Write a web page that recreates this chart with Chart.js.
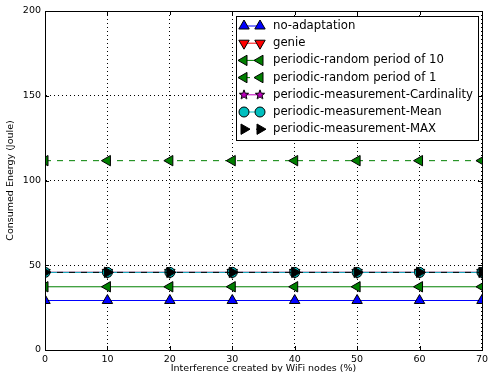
<!DOCTYPE html>
<html>
<head>
  <meta charset="UTF-8">
  <title>Consumed Energy</title>
  <script src="https://cdn.jsdelivr.net/npm/chart.js"></script>
  <style>
    body { margin: 0; background: #fff; overflow: hidden; }
    #wrap { width: 489px; height: 372px; overflow: hidden; }
    canvas { display: block; }
  </style>
</head>
<body>
  <div id="wrap"><canvas id="energyChart" width="492" height="372"></canvas></div>

  <script>
    // data
    const interference = [0, 10, 20, 30, 40, 50, 60, 70];
    const xTicks = [0, 10, 20, 30, 40, 50, 60, 70];
    const yTicks = [0, 50, 100, 150, 200];

    const noAdaptation = [29.2, 29.2, 29.2, 29.2, 29.2, 29.2, 29.2, 29.2];
    const genie = [45.8, 45.8, 45.8, 45.8, 45.8, 45.8, 45.8, 45.8];
    const periodic10 = [37.3, 37.3, 37.3, 37.3, 37.3, 37.3, 37.3, 37.3];
    const periodic1 = [111.7, 111.7, 111.7, 111.7, 111.7, 111.7, 111.7, 111.7];
    const measCardinality = [45.8, 45.8, 45.8, 45.8, 45.8, 45.8, 45.8, 45.8];
    const measMean = [45.8, 45.8, 45.8, 45.8, 45.8, 45.8, 45.8, 45.8];
    const measMax = [45.8, 45.8, 45.8, 45.8, 45.8, 45.8, 45.8, 45.8];

    const FONT = "'DejaVu Sans', sans-serif";

    // 5 point star marker (chart.js 'star' is an asterisk)
    function makeStar(r, fill) {
      const c = document.createElement('canvas');
      c.width = c.height = r * 2 + 2;
      const g = c.getContext('2d');
      const cx = r + 1, cy = r + 1;
      g.beginPath();
      for (let i = 0; i < 10; i++) {
        const rad = i % 2 === 0 ? r : r * 0.42;
        const a = -Math.PI / 2 + i * Math.PI / 5;
        g.lineTo(cx + rad * Math.cos(a), cy + rad * Math.sin(a));
      }
      g.closePath();
      g.fillStyle = fill;
      g.fill();
      g.strokeStyle = '#000';
      g.lineWidth = 1;
      g.stroke();
      return c;
    }
    const starImg = makeStar(5, '#bf00bf');

    const pts = arr => arr.map((v, i) => ({ x: interference[i], y: v }));

    const series = [
      { label: 'no-adaptation', data: noAdaptation, color: '#0000ff', fill: '#0000ff', style: 'triangle', rot: 0, r: 6, dash: [] },
      { label: 'genie', data: genie, color: '#ff0000', fill: '#ff0000', style: 'triangle', rot: 180, r: 6, dash: [] },
      { label: 'periodic-random period of 10', data: periodic10, color: '#008000', fill: '#008000', style: 'triangle', rot: -90, r: 6, dash: [] },
      { label: 'periodic-random period of 1', data: periodic1, color: '#008000', fill: '#008000', style: 'triangle', rot: -90, r: 6, dash: [6, 6] },
      { label: 'periodic-measurement-Cardinality', data: measCardinality, color: '#bf00bf', fill: '#bf00bf', style: starImg, rot: 0, r: 5, dash: [] },
      { label: 'periodic-measurement-Mean', data: measMean, color: '#00bfbf', fill: '#00bfbf', style: 'circle', rot: 0, r: 5, dash: [] },
      { label: 'periodic-measurement-MAX', data: measMax, color: '#000000', fill: '#000000', style: 'triangle', rot: 90, r: 6, dash: [6, 6] }
    ];

    const datasets = series.map((s, i) => ({
      label: s.label,
      data: pts(s.data),
      borderColor: s.color,
      borderWidth: 1,
      borderDash: s.dash,
      backgroundColor: s.fill,
      pointStyle: s.style,
      pointRotation: s.rot,
      pointRadius: s.r,
      pointBackgroundColor: s.fill,
      pointBorderColor: '#000',
      pointBorderWidth: 1,
      fill: false,
      tension: 0,
      clip: 0,
      order: series.length - i
    }));

    // box, inward ticks and the in-plot legend (matplotlib look)
    const frame = {
      id: 'frame',
      afterDraw(chart) {
        const ctx = chart.ctx;
        const a = chart.chartArea;
        const xs = chart.scales.x, ys = chart.scales.y;
        ctx.save();
        ctx.strokeStyle = '#000';
        ctx.lineWidth = 1;
        ctx.beginPath();
        xTicks.forEach(t => {
          const px = Math.round(xs.getPixelForValue(t)) + 0.5;
          ctx.moveTo(px, a.bottom); ctx.lineTo(px, a.bottom - 4);
          ctx.moveTo(px, a.top); ctx.lineTo(px, a.top + 4);
        });
        yTicks.forEach(t => {
          const py = Math.round(ys.getPixelForValue(t)) + 0.5;
          ctx.moveTo(a.left, py); ctx.lineTo(a.left + 4, py);
          ctx.moveTo(a.right, py); ctx.lineTo(a.right - 4, py);
        });
        ctx.stroke();
        ctx.strokeRect(Math.round(a.left) + 0.5, Math.round(a.top) + 0.5,
          Math.round(a.right - a.left), Math.round(a.bottom - a.top));

        // legend
        const bx = 236.5, by = 16.5, bw = 242, bh = 124;
        ctx.fillStyle = '#fff';
        ctx.fillRect(bx, by, bw, bh);
        ctx.strokeRect(bx, by, bw, bh);
        ctx.font = '11.7px ' + FONT;
        ctx.textBaseline = 'middle';
        series.forEach((s, i) => {
          const y = 26 + i * 17.2;
          const x1 = 244, x2 = 260;
          ctx.save();
          ctx.strokeStyle = s.color;
          ctx.setLineDash(s.dash);
          ctx.beginPath();
          ctx.moveTo(x1, y); ctx.lineTo(x2, y);
          ctx.stroke();
          ctx.restore();
          [x1, x2].forEach(x => {
            ctx.fillStyle = s.fill;
            ctx.strokeStyle = '#000';
            ctx.lineWidth = 1;
            Chart.helpers.drawPoint(ctx, {
              pointStyle: s.style, radius: s.r, rotation: s.rot, borderWidth: 1
            }, x, y);
          });
          ctx.fillStyle = '#000';
          ctx.fillText(s.label, 273, y);
        });
        ctx.restore();
      }
    };

    new Chart(document.getElementById('energyChart'), {
      type: 'line',
      data: { datasets },
      options: {
        responsive: false,
        animation: false,
        devicePixelRatio: 1,
        layout: { padding: { top: 11, right: 0, left: 0, bottom: 0 } },
        plugins: { legend: { display: false }, tooltip: { enabled: false } },
        scales: {
          x: {
            type: 'linear', min: 0, max: 70,
            afterFit: s => { s.height = 22; },
            afterBuildTicks: s => { s.ticks = xTicks.map(v => ({ value: v })); },
            ticks: { padding: 4, color: '#000', font: { family: FONT, size: 9.5 }, maxRotation: 0 },
            grid: { color: '#000', lineWidth: 1, drawTicks: false, tickLength: 0 },
            border: { display: true, color: '#000', dash: [1, 3] },
            title: { display: true, text: 'Interference created by WiFi nodes (%)', color: '#000',
              font: { family: FONT, size: 9.5 }, padding: { top: 0, bottom: -2 } }
          },
          y: {
            min: 0, max: 200,
            afterFit: s => { s.width = 45; },
            afterBuildTicks: s => { s.ticks = yTicks.map(v => ({ value: v })); },
            ticks: { padding: 4, color: '#000', font: { family: FONT, size: 9.5 } },
            grid: { color: '#000', lineWidth: 1, drawTicks: false, tickLength: 0 },
            border: { display: true, color: '#000', dash: [1, 3] },
            title: { display: true, text: 'Consumed Energy (Joule)', color: '#000',
              font: { family: FONT, size: 9.5 }, padding: { top: 5, bottom: 0 } }
          }
        }
      },
      plugins: [frame]
    });
  </script>
</body>
</html>
